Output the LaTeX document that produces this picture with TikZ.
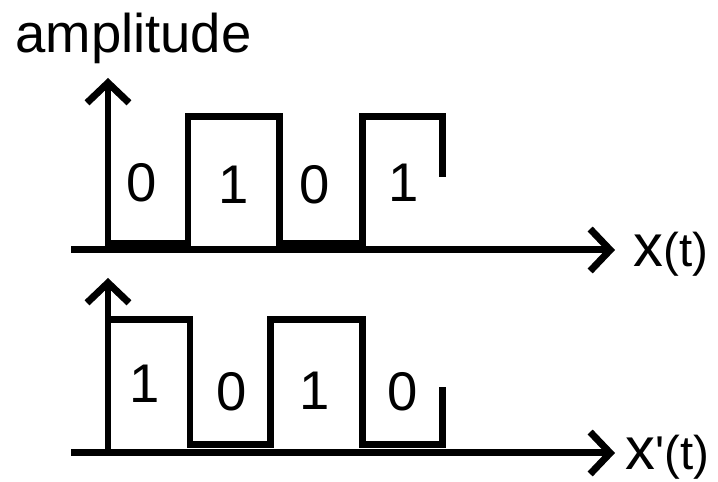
\documentclass[tikz,border=0pt]{standalone}
\usepackage{fontspec}
\setmainfont{Liberation Sans}
\usetikzlibrary{arrows.meta}

\begin{document}
\begin{tikzpicture}[x=0.02cm, y=-0.02cm,
  axis/.style={line width=0.14cm, -{Straight Barb[length=0.4cm, width=0.84cm]}},
  signal/.style={line width=0.14cm},
  bit/.style={inner sep=0pt, font=\fontsize{31}{31}\selectfont},
  axlabel/.style={inner sep=0pt, anchor=base west, font=\fontsize{27}{27}\selectfont}]

\useasboundingbox (0,0) rectangle (718,482);

% "amplitude" above the upper axis
\node[inner sep=0pt, anchor=base west, font=\fontsize{31}{31}\selectfont] (amp) at (15,53) {amplitude};

% upper plot: axes
\draw[axis] (108,250) -- (108,78);
\draw[axis] (71,250) -- (615,250);
\node[axlabel] (xt) at (633,267) {{\fontsize{34}{34}\selectfont x}(t)};

% upper plot: 0 1 0 1
\draw[signal] (108,244) -- (188,244) -- (188,117) -- (279,117) -- (279,244)
  -- (362,244) -- (362,117) -- (442,117) -- (442,177);
\node[bit] (up0) at (142,183) {0};
\node[bit] (up1) at (234,185) {1};
\node[bit] (up2) at (315,185) {0};
\node[bit] (up3) at (404,183) {1};

% lower plot: axes
\draw[axis] (108,453) -- (108,278);
\draw[axis] (71,453) -- (615,453);
\node[axlabel] (xpt) at (625,470) {{\fontsize{34}{34}\selectfont x}\textquotesingle(t)};

% lower plot: 1 0 1 0
\draw[signal] (108,320) -- (190,320) -- (190,445) -- (270,445) -- (270,320)
  -- (362,320) -- (362,445) -- (442,445) -- (442,387);
\node[bit] (lo0) at (145,384) {1};
\node[bit] (lo1) at (232,392) {0};
\node[bit] (lo2) at (315,391) {1};
\node[bit] (lo3) at (403,392) {0};

\end{tikzpicture}
\end{document}
